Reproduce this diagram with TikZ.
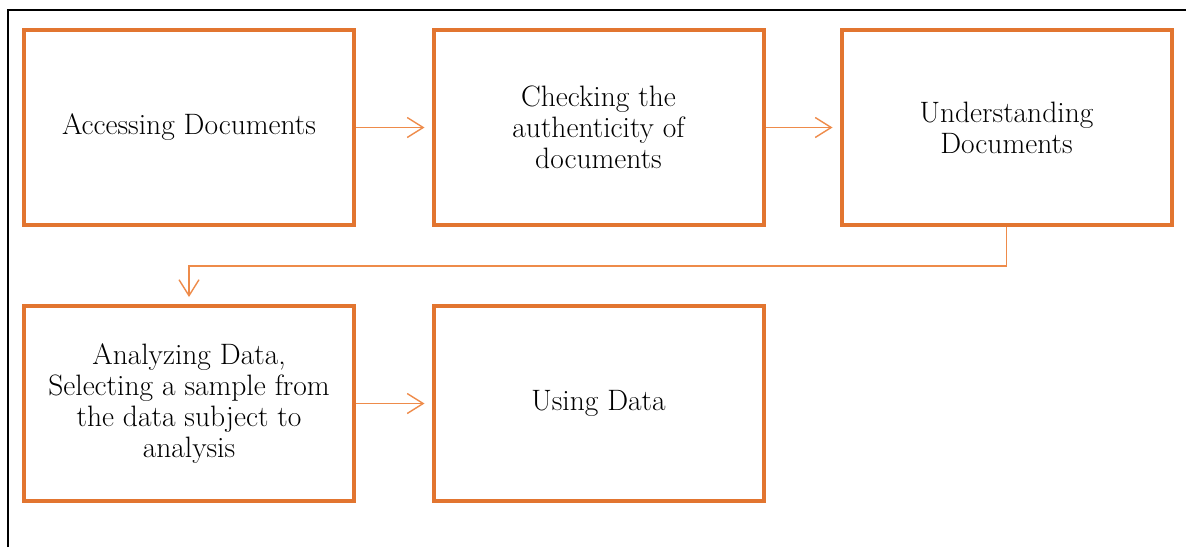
\documentclass[tikz,border=0pt]{standalone}
\usetikzlibrary{arrows.meta}
\definecolor{boxorange}{HTML}{E27530}
\definecolor{linkorange}{HTML}{EE8B4A}
\begin{document}
\begin{tikzpicture}[x=1pt,y=-1pt,
  stepbox/.style={draw=boxorange,line width=4pt,minimum width=330pt,minimum height=195pt,
    align=center,inner sep=0pt,font=\fontsize{29.5}{31}\selectfont},
  link/.style={draw=linkorange,line width=1.4pt,
    -{Straight Barb[length=16pt,width=20pt,line width=1.4pt]},shorten >=7pt}]
  \useasboundingbox (0,0) rectangle (1186,547);
  % outer frame (top and left rules)
  \draw[line width=2pt] (8,547) -- (8,10) -- (1186,10);
  % process steps
  \node[stepbox] (access) at (189,127.5) {Accessing Documents};
  \node[stepbox] (check) at (598.5,127.5) {Checking the\\authenticity of\\documents};
  \node[stepbox] (under) at (1006.5,127.5) {Understanding\\Documents};
  \node[stepbox] (analyze) at (189,403.5) {Analyzing Data,\\Selecting a sample from\\the data subject to\\analysis};
  \node[stepbox] (use) at (598.5,403.5) {Using Data};
  % connectors
  \draw[link] (access.east) -- (check.west);
  \draw[link] (check.east) -- (under.west);
  \coordinate (turnA) at (under.south |- 0,266);
  \coordinate (turnB) at (analyze.north |- 0,266);
  \draw[link] (under.south) -- (turnA) -- (turnB) -- (analyze.north);
  \draw[link] (analyze.east) -- (use.west);
\end{tikzpicture}
\end{document}
